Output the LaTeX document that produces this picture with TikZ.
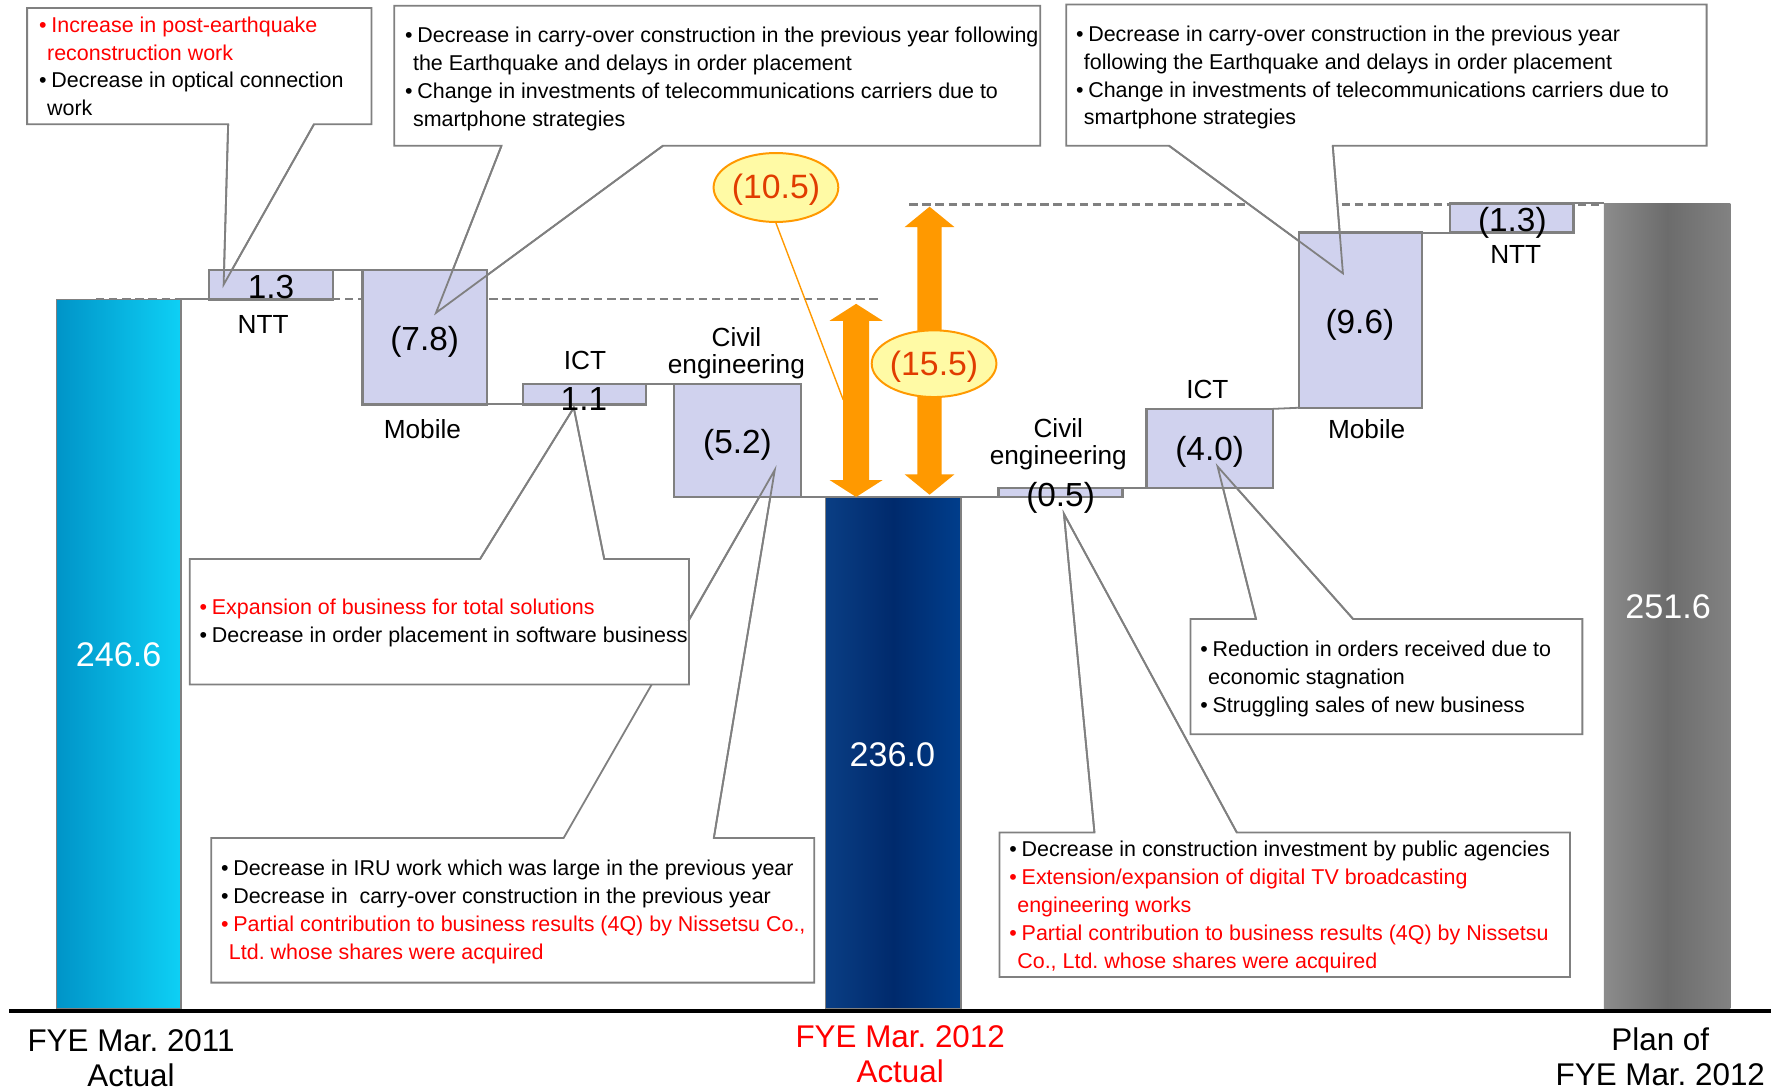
\documentclass[tikz,border=0pt]{standalone}
\usepackage{fontspec}
\setmainfont{Liberation Sans}
\usetikzlibrary{shapes.geometric,fit}
\frenchspacing

\definecolor{boxfill}{RGB}{208,210,238}
\definecolor{edgegrey}{RGB}{128,128,128}
\definecolor{callred}{RGB}{255,0,0}
\definecolor{arroworange}{RGB}{255,153,0}
\definecolor{ovalfill}{RGB}{255,250,165}
\definecolor{ovaltext}{RGB}{225,60,0}
\definecolor{cyanL}{RGB}{0,148,200}
\definecolor{cyanR}{RGB}{14,208,245}
\definecolor{navyL}{RGB}{10,62,132}
\definecolor{navyM}{RGB}{0,42,108}
\definecolor{navyR}{RGB}{0,62,140}
\definecolor{greyL}{RGB}{140,140,140}
\definecolor{greyM}{RGB}{108,108,108}
\definecolor{greyR}{RGB}{130,130,130}

% bullet column and hanging indent for the note texts
\newcommand\cbul{\makebox[3.1pt][l]{•}}
\newcommand\cind{\hspace*{2.0pt}}
% lower a text without changing the box it occupies
\newcommand\lowered[2]{\raisebox{-#1}[\height][\depth]{#2}}

\begin{document}
\begin{tikzpicture}[x=0.01cm,y=-0.01cm,
  link/.style={draw=edgegrey, line width=0.45pt},
  levelline/.style={draw=edgegrey, line width=0.55pt, dash pattern=on 2.1pt off 1.2pt},
  delta/.style={fill=boxfill, draw=edgegrey, line width=0.6pt, inner sep=0pt, outer sep=0pt},
  bar/.style={inner sep=0pt, outer sep=0pt},
  callout/.style={fill=white, draw=edgegrey, line width=0.45pt, line join=miter},
  pointer/.style={draw=edgegrey, line width=0.45pt},
  note/.style={anchor=north west, inner sep=0pt, align=left, font=\fontsize{5.4}{7.03}\selectfont},
  val/.style={inner sep=0pt, font=\fontsize{8.4}{9}\selectfont},
  cat/.style={inner sep=0pt, align=center, font=\fontsize{6.6}{6.83}\selectfont},
  barval/.style={inner sep=0pt, text=white, font=\fontsize{8.6}{9}\selectfont},
  axislabel/.style={inner sep=0pt, align=center, font=\fontsize{7.9}{8.8}\selectfont},
  oval/.style={ellipse, fill=ovalfill, draw=arroworange, line width=0.5pt, inner sep=0pt,
    text=ovaltext, font=\fontsize{8.5}{9}\selectfont},
  gaparrow/.style={fill=arroworange},
  leader/.style={draw=arroworange, line width=0.35pt},
]
\useasboundingbox (0,0) rectangle (1568,963);
\fill[white] (0,0) rectangle (1568,963);

% ---------- reference levels ----------
\coordinate (lvlA0) at (85,265);
\coordinate (lvlA1) at (778,265);
\coordinate (lvlB0) at (805,181);
\coordinate (lvlB1) at (1420,181);
\draw[levelline] (lvlA0) -- (lvlA1);
\draw[levelline] (lvlB0) -- (lvlB1);

% ---------- callouts (white plates with pointers) ----------
\coordinate (tipE) at (686,416);
\coordinate (eL) at (499,742);
\coordinate (eR) at (632,742);
\path[callout] (187,742) -- (eL) -- (tipE) -- (eR) -- (721,742) -- (721,870) -- (187,870) -- cycle;

\coordinate (tipD) at (508,361);
\coordinate (dL) at (425,495);
\coordinate (dR) at (535,495);
\path[callout] (168,495) -- (dL) -- (tipD) -- (dR) -- (610,495) -- (610,606) -- (168,606) -- cycle;

\coordinate (tipA) at (198,252);
\coordinate (aL) at (202,110);
\coordinate (aR) at (278,110);
\path[callout] (24,7) -- (329,7) -- (329,110) -- (aR) -- (tipA) -- (aL) -- (24,110) -- cycle;

\coordinate (tipB) at (386,277);
\coordinate (bL) at (444,129);
\coordinate (bR) at (587,129);
\path[callout] (349,5) -- (921,5) -- (921,129) -- (bR) -- (tipB) -- (bL) -- (349,129) -- cycle;

\coordinate (tipC) at (1189,242);
\coordinate (cL) at (1035,129);
\coordinate (cR) at (1180,129);
\path[callout] (944,4) -- (1511,4) -- (1511,129) -- (cR) -- (tipC) -- (cL) -- (944,129) -- cycle;

\coordinate (tipF) at (1078,413);
\coordinate (fL) at (1112,548);
\coordinate (fR) at (1198,548);
\path[callout] (1054,548) -- (fL) -- (tipF) -- (fR) -- (1401,548) -- (1401,650) -- (1054,650) -- cycle;

\coordinate (tipG) at (942,455);
\coordinate (gL) at (969,737);
\coordinate (gR) at (1095,737);
\path[callout] (885,737) -- (gL) -- (tipG) -- (gR) -- (1390,737) -- (1390,865) -- (885,865) -- cycle;

% ---------- totals ----------
\node[bar, fit={(50,265) (160,893)}, left color=cyanL, right color=cyanR,
  draw=edgegrey, line width=0.4pt] (lbar) {};
\node[bar, fit={(731,440) (851,893)}, left color=navyL, right color=navyR, middle color=navyM,
  draw=edgegrey, line width=0.4pt] (mbar) {};
\node[bar, fit={(1420,180) (1532,893)}, left color=greyL, right color=greyR, middle color=greyM] (rbar) {};

% ---------- changes ----------
\node[delta, fit={(185,239) (295,265)}] (ntt) {};
\node[delta, fit={(321,239) (431,358)}] (mob) {};
\node[delta, fit={(463,340) (572,358)}] (ict) {};
\node[delta, fit={(597,340) (709,440)}] (civ) {};
\node[delta, fit={(884,432) (994,440)}] (civb) {};
\node[delta, fit={(1015,362) (1127,432)}] (ictb) {};
\node[delta, fit={(1150,206) (1259,361)}] (mobb) {};
\node[delta, fit={(1284,180) (1393,206)}] (nttb) {};

% step links
\draw[link] (lbar.north east) -- (ntt.south west);
\draw[link] (ntt.north east) -- (mob.north west);
\draw[link] (mob.south east) -- (ict.south west);
\draw[link] (ict.north east) -- (civ.north west);
\draw[link] (civ.south east) -- (mbar.north west);
\draw[link] (mbar.north east) -- (civb.south west);
\draw[link] (civb.north east) -- (ictb.south west);
\draw[link] (ictb.north east) -- (mobb.south west);
\draw[link] (mobb.north east) -- (nttb.south west);
\draw[link] (nttb.north east) -- (rbar.north west);

% pointer edges over the boxes
\draw[pointer] (aL) -- (tipA) -- (aR);
\draw[pointer] (bL) -- (tipB) -- (bR);
\draw[pointer] (cL) -- (tipC) -- (cR);
\draw[pointer] (dL) -- (tipD) -- (dR);
\draw[pointer] (609.6,549.8) -- (tipE) -- (eR);
\draw[pointer] (fL) -- (tipF) -- (fR);
\draw[pointer] (gL) -- (tipG) -- (gR);

% ---------- gap arrows ----------
\coordinate (gapAtop) at (758,269);
\coordinate (gapBtop) at (823,183);
\fill[gaparrow] (gapAtop) -- ++(23.5,15) -- ++(-12,0) -- ++(0,141) -- ++(12,0) -- ++(-23.5,15)
  -- ++(-23.5,-15) -- ++(12,0) -- ++(0,-141) -- ++(-12,0) -- cycle;
\fill[gaparrow] (gapBtop) -- ++(22,18) -- ++(-11.3,0) -- ++(0,219) -- ++(11.3,0) -- ++(-22,18)
  -- ++(-22,-18) -- ++(11.3,0) -- ++(0,-219) -- ++(-11.3,0) -- cycle;

\node[oval, minimum width=1.02cm, minimum height=0.61cm] (o105) at (687,166) {\lowered{0.6pt}{(10.5)}};
\coordinate (leadEnd) at (746.6,354);
\draw[leader] (o105.south) -- (leadEnd);
\node[oval, minimum width=1.08cm, minimum height=0.59cm] (o155) at (827,322) {\lowered{0.85pt}{(15.5)}};

% ---------- values and categories ----------
\node[barval] (v1) at (105,580) {246.6};
\node[barval] (v2) at (790,668) {236.0};
\node[barval] (v3) at (1477,537) {251.6};

\node[val] (lntt) at (240,254) {1.3};
\node[cat] (cntt) at (233,287) {NTT};
\node[val] (lmob) at (376,302.5) {(7.8)};
\node[cat] (cmob) at (374,380) {Mobile};
\node[val] (lict) at (517,353) {1.1};
\node[cat] (cict) at (518,319) {ICT};
\node[val] (lciv) at (653,393.5) {(5.2)};
\node[cat] (cciv) at (652,313) {Civil\\engineering};
\node[val] (lcivb) at (939,440.5) {(0.5)};
\node[cat] (ccivb) at (937,393) {Civil\\engineering};
\node[val] (lictb) at (1071,400.5) {(4.0)};
\node[cat] (cictb) at (1069,345) {ICT};
\node[val] (lmobb) at (1204,287.5) {(9.6)};
\node[cat] (cmobb) at (1210,380) {Mobile};
\node[val] (lnttb) at (1339,197.5) {(1.3)};
\node[cat] (cnttb) at (1342,225) {NTT};

% ---------- notes ----------
\node[note] (nA) at (34,14) {%
\textcolor{callred}{\cbul Increase in post-earthquake}\\
\textcolor{callred}{\cind reconstruction work}\\
\cbul Decrease in optical connection\\
\cind work};

\node[note] (nB) at (358,23) {%
\cbul Decrease in carry-over construction in the previous year following\\
\cind the Earthquake and delays in order placement\\
\cbul Change in investments of telecommunications carriers due to\\
\cind smartphone strategies};

\node[note] (nC) at (952,22) {%
\cbul Decrease in carry-over construction in the previous year\\
\cind following the Earthquake and delays in order placement\\
\cbul Change in investments of telecommunications carriers due to\\
\cind smartphone strategies};

\node[note] (nD) at (176,530) {%
\textcolor{callred}{\cbul Expansion of business for total solutions}\\
\cbul Decrease in order placement in software business};

\node[note] (nE) at (195,761) {%
\cbul Decrease in IRU work which was large in the previous year\\
\cbul Decrease in~ carry-over construction in the previous year\\
\textcolor{callred}{\cbul Partial contribution to business results (4Q) by Nissetsu Co.,}\\
\textcolor{callred}{\cind Ltd. whose shares were acquired}};

\node[note] (nF) at (1062,567) {%
\cbul Reduction in orders received due to\\
\cind economic stagnation\\
\cbul Struggling sales of new business};

\node[note] (nG) at (893,744) {%
\cbul Decrease in construction investment by public agencies\\
\textcolor{callred}{\cbul Extension/expansion of digital TV broadcasting}\\
\textcolor{callred}{\cind engineering works}\\
\textcolor{callred}{\cbul Partial contribution to business results (4Q) by Nissetsu}\\
\textcolor{callred}{\cind Co., Ltd. whose shares were acquired}};

% ---------- axis ----------
\coordinate (axL) at (8,895);
\coordinate (axR) at (1568,895);
\draw[line width=1.15pt] (axL) -- (axR);

\node[axislabel] (x1) at (116,937) {FYE Mar. 2011\\Actual};
\node[axislabel, text=callred] (x2) at (797,933) {FYE Mar. 2012\\Actual};
\node[axislabel] (x3) at (1470,936) {Plan of\\FYE Mar. 2012};
\end{tikzpicture}
\end{document}
